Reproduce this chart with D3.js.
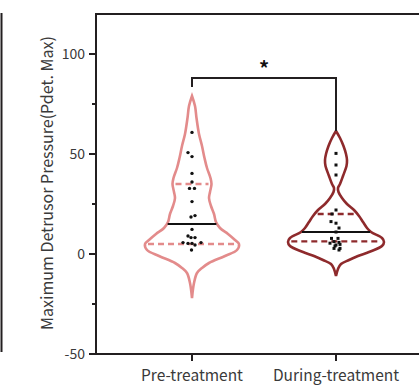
<!DOCTYPE html>
<html><head><meta charset="utf-8">
<script src="https://cdn.jsdelivr.net/npm/d3@7/dist/d3.min.js"></script>
<style>body{margin:0;background:#fff}svg{display:block}</style>
</head><body>
<svg id="chart" width="419" height="386"></svg>
<script>
const categories = ["Pre-treatment", "During-treatment"];
const yTicksMajor = [-50, 0, 50, 100];
const yTicksMinor = [-25, 25, 75];
const yLabel = "Maximum Detrusor Pressure(Pdet. Max)";
const colors = ["#e38b8b", "#8e2a2c"];

const preValues = [60.8, 50.7, 48.7, 40.3, 36, 32.8, 32.8, 26.2, 18.5, 19.2, 12.3, 9, 8.2, 8.2, 5.7, 5.3, 5.3, 4.5, 5.7, 2];
const preJitter = [0, -4, 0, 0, 0, -2.5, 2.5, 0, -1, 3, 0, -4, -1, 3, -9, -4, 0, 3, 9, -0.5];
const duringValues = [50.3, 44.5, 39.5, 22, 20, 16.2, 15.4, 13, 11, 7.8, 7.8, 6.2, 5.8, 5.4, 4.5, 4.8, 4, 2.8, 2, 2.8];
const duringJitter = [0, 0, 0, 0, -4, -5, 0, 3, 0, -4.5, 2, -2, 3, -6, 0, 4, -1, -2, 3, 4];

// violin half-width profiles [value, relative density]
const preProfile = [[79,0],[74,3],[68,4.5],[60,7],[54,10],[48,12.5],[43,15],[38,18.5],[35,19.5],[31,18],[28,17],[24,19],[20,22],[16,24],[13,28],[10,36],[7,43],[5,47],[2,45],[-1,33],[-4.5,17],[-7,10],[-9.5,5],[-14.5,2],[-22,0]];
const duringProfile = [[61.5,0],[58,4],[54,7.5],[50,10],[47,11],[44,10.5],[39,7],[35,4],[33,2],[31,2.5],[28,6],[25,11],[22,18],[19,23],[16,27],[13,31],[11,35],[8,46],[6,48],[4,46],[1,33],[-1,22],[-3,13],[-5,5],[-7.5,2],[-11,0]];

const quartiles = [[5, 15, 35], [6.3, 11, 20]]; // Q1, median, Q3
const sigLevel = 88, sigLegs = [83.5, 61.5];

const svg = d3.select("#chart");
const font = "'Noto Sans CJK SC','Noto Sans',sans-serif";
const axisColor = "#231f20";
const textColor = "#3a3a3a";

const y = d3.scaleLinear().domain([-50, 120]).range([354, 14]);
const x = d3.scalePoint().domain(categories).range([192, 336]);
const w = d3.scaleLinear().domain([0, 48]).range([0, 48]);

// stray left frame line
svg.append("line").attr("x1", 1.5).attr("x2", 1.5).attr("y1", y(120) - 1).attr("y2", y(-50) - 2)
  .attr("stroke", axisColor).attr("stroke-width", 2);

// frame
svg.append("path").attr("d", `M430,${y(120)}H96V${y(-50)}H430`)
  .attr("stroke", axisColor).attr("stroke-width", 2).attr("fill", "none");

// y ticks
yTicksMajor.forEach(t => {
  svg.append("line").attr("x1", 89).attr("x2", 96).attr("y1", y(t)).attr("y2", y(t)).attr("stroke", axisColor).attr("stroke-width", 2);
  svg.append("text").attr("x", 85).attr("y", y(t)).attr("dy", "0.36em").attr("text-anchor", "end")
    .attr("font-family", font).attr("font-size", 14).attr("fill", textColor).text(t);
});
yTicksMinor.forEach(t => {
  svg.append("line").attr("x1", 92).attr("x2", 96).attr("y1", y(t)).attr("y2", y(t)).attr("stroke", axisColor).attr("stroke-width", 2);
});
svg.append("text").attr("transform", `translate(53,${183}) rotate(-90)`).attr("text-anchor", "middle")
  .attr("font-family", font).attr("font-size", 16).attr("fill", textColor).text(yLabel);

// x ticks
categories.forEach(c => {
  svg.append("line").attr("x1", x(c)).attr("x2", x(c)).attr("y1", y(-50)).attr("y2", y(-50) + 7).attr("stroke", axisColor).attr("stroke-width", 2);
  svg.append("text").attr("x", x(c)).attr("y", 381).attr("text-anchor", "middle")
    .attr("font-family", font).attr("font-size", 15.5).attr("fill", textColor).text(c);
});

// violins
const profiles = [preProfile, duringProfile];
const valuesAll = [preValues, duringValues];
const jitters = [preJitter, duringJitter];
profiles.forEach((prof, i) => {
  const cx = x(categories[i]);
  const area = d3.area().curve(d3.curveCatmullRom.alpha(0.5))
    .y(d => y(d[0])).x0(d => cx - w(d[1])).x1(d => cx + w(d[1]));
  svg.append("path").datum(prof).attr("d", area).attr("fill", "none")
    .attr("stroke", colors[i]).attr("stroke-width", 2.6);
  const widthAt = d3.scaleLinear().domain(prof.map(d => d[0])).range(prof.map(d => d[1]));
  const [q1, med, q3] = quartiles[i];
  [q1, q3].forEach(q => {
    const hw = w(widthAt(q)) - 3;
    svg.append("line").attr("x1", cx - hw).attr("x2", cx + hw).attr("y1", y(q)).attr("y2", y(q))
      .attr("stroke", colors[i]).attr("stroke-width", 2.4).attr("stroke-dasharray", "6,4");
  });
  const hm = w(widthAt(med)) - 1;
  svg.append("line").attr("x1", cx - hm).attr("x2", cx + hm).attr("y1", y(med)).attr("y2", y(med))
    .attr("stroke", "#111").attr("stroke-width", 2);
  // points
  valuesAll[i].forEach((v, k) => {
    const px = cx + jitters[i][k];
    if (i === 0) {
      svg.append("circle").attr("cx", px).attr("cy", y(v)).attr("r", 1.7).attr("fill", "#111");
    } else {
      svg.append("rect").attr("x", px - 1.5).attr("y", y(v) - 1.5).attr("width", 3).attr("height", 3).attr("fill", "#111");
    }
  });
});

// significance bracket
svg.append("path").attr("d", `M${x(categories[0])},${y(sigLegs[0])}V${y(sigLevel)}H${x(categories[1])}V${y(sigLegs[1])}`)
  .attr("fill", "none").attr("stroke", axisColor).attr("stroke-width", 2);
svg.append("text").attr("x", (x(categories[0]) + x(categories[1])) / 2).attr("y", y(sigLevel) - 2)
  .attr("text-anchor", "middle").attr("font-family", font).attr("font-size", 20).attr("font-weight", "bold")
  .attr("fill", "#111").text("*");
</script>
</body></html>
